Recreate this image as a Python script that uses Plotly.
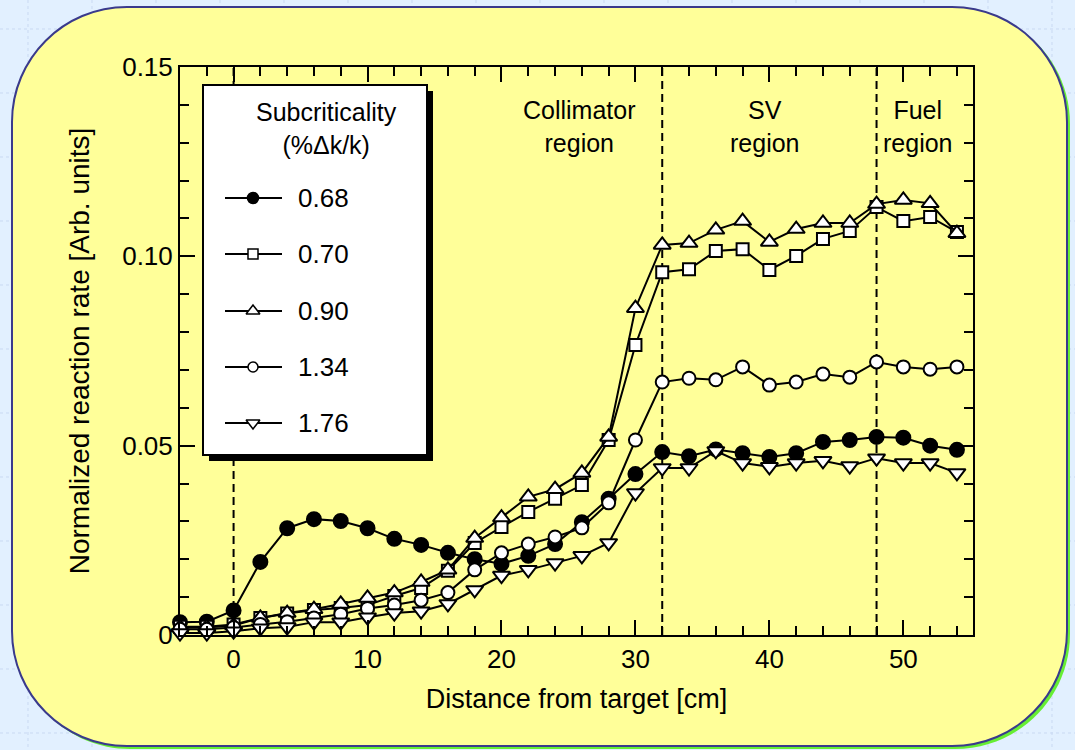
import plotly.graph_objects as go

# ---------------- data ----------------
distance_cm = [-4, -2, 0, 2, 4, 6, 8, 10, 12, 14, 16, 18, 20, 22, 24, 26, 28, 30,
               32, 34, 36, 38, 40, 42, 44, 46, 48, 50, 52, 54]

rate_068 = [0.0034, 0.0035, 0.0065, 0.0193, 0.0282, 0.0306, 0.0301, 0.0282, 0.0254, 0.0238,
            0.0217, 0.0200, 0.0188, 0.0209, 0.0240, 0.0298, 0.0360, 0.0425, 0.0483, 0.0472,
            0.0490, 0.0480, 0.0470, 0.0480, 0.0510, 0.0515, 0.0523, 0.0521, 0.0500, 0.0489]
rate_070 = [0.0022, 0.0022, 0.0028, 0.0045, 0.0057, 0.0066, 0.0071, 0.0079, 0.0103, 0.0124,
            0.0170, 0.0243, 0.0285, 0.0325, 0.0360, 0.0396, 0.0515, 0.0766, 0.0958, 0.0966,
            0.1014, 0.1019, 0.0964, 0.1001, 0.1046, 0.1067, 0.1130, 0.1093, 0.1104, 0.1064]
rate_090 = [0.0020, 0.0020, 0.0025, 0.0045, 0.0058, 0.0068, 0.0082, 0.0098, 0.0112, 0.0140,
            0.0172, 0.0256, 0.0310, 0.0365, 0.0385, 0.0428, 0.0523, 0.0863, 0.1030, 0.1035,
            0.1070, 0.1093, 0.1038, 0.1072, 0.1088, 0.1088, 0.1138, 0.1149, 0.1140, 0.1061]
rate_134 = [0.0015, 0.0015, 0.0020, 0.0028, 0.0035, 0.0045, 0.0055, 0.0070, 0.0079, 0.0092,
            0.0112, 0.0172, 0.0217, 0.0240, 0.0259, 0.0283, 0.0349, 0.0515, 0.0668, 0.0678,
            0.0674, 0.0708, 0.0660, 0.0668, 0.0689, 0.0681, 0.0721, 0.0708, 0.0702, 0.0708]
rate_176 = [0.0005, 0.0005, 0.0010, 0.0018, 0.0021, 0.0034, 0.0034, 0.0047, 0.0058, 0.0063,
            0.0082, 0.0119, 0.0157, 0.0172, 0.0190, 0.0209, 0.0243, 0.0375, 0.0441, 0.0441,
            0.0486, 0.0454, 0.0444, 0.0454, 0.0460, 0.0446, 0.0467, 0.0454, 0.0454, 0.0428]

series_labels = ["0.68", "0.70", "0.90", "1.34", "1.76"]
series_values = [rate_068, rate_070, rate_090, rate_134, rate_176]

region_bounds = [0, 32, 48]
region_labels = ["Collimator<br>region", "SV<br>region", "Fuel<br>region"]
region_label_x = [25.8, 39.7, 51.1]

x_tickvals = [0, 10, 20, 30, 40, 50]
x_ticktext = ["0", "10", "20", "30", "40", "50"]
y_tickvals = [0, 0.05, 0.10, 0.15]
y_ticktext = ["0", "0.05", "0.10", "0.15"]

# ---------------- styles ----------------
FONT = "Liberation Sans, Arial, sans-serif"
W, H = 1075, 750
L, R, T, B = 180, 973, 67, 635          # plot area in pixels
YELLOW = "#ffff99"
BG = "#e2f0ff"

symbols = ["circle", "square", "triangle-up", "circle", "triangle-down"]
fills = ["black", "white", "white", "white", "white"]
sizes = [14, 12, 15, 13, 15]
leg_sizes = [11, 10, 12, 10, 12]


def px(x):
    return (x - L) / (R - L)


def py(y):
    return (B - y) / (B - T)


def rrect_path(x0, y0, x1, y1, r):
    k = 0.5523 * r
    pts = [
        ("M", [(x0 + r, y0)]),
        ("L", [(x1 - r, y0)]),
        ("C", [(x1 - r + k, y0), (x1, y0 + r - k), (x1, y0 + r)]),
        ("L", [(x1, y1 - r)]),
        ("C", [(x1, y1 - r + k), (x1 - r + k, y1), (x1 - r, y1)]),
        ("L", [(x0 + r, y1)]),
        ("C", [(x0 + r - k, y1), (x0, y1 - r + k), (x0, y1 - r)]),
        ("L", [(x0, y0 + r)]),
        ("C", [(x0, y0 + r - k), (x0 + r - k, y0), (x0 + r, y0)]),
    ]
    s = ""
    for cmd, pl in pts:
        s += cmd + " " + " ".join(f"{px(a):.5f},{py(b):.5f}" for a, b in pl) + " "
    return s + "Z"


fig = go.Figure()

for lab, vals, sym, fc, sz in zip(series_labels, series_values, symbols, fills, sizes):
    fig.add_trace(go.Scatter(
        x=distance_cm, y=vals, mode="lines+markers", name=lab,
        line=dict(color="black", width=2),
        marker=dict(symbol=sym, size=sz, color=fc, line=dict(color="black", width=2)),
        cliponaxis=False, showlegend=False,
    ))

# ---- manual legend (overlay axis in pixel units) ----
leg_rows_y = [198, 254, 311, 367, 423]
leg_line_x = [225, 282]
leg_mark_x = 253
for lab, sym, fc, ls, ry in zip(series_labels, symbols, fills, leg_sizes, leg_rows_y):
    fig.add_trace(go.Scatter(
        x=leg_line_x, y=[ry, ry], mode="lines", xaxis="x2", yaxis="y2",
        line=dict(color="black", width=2), showlegend=False, hoverinfo="skip",
        cliponaxis=False,
    ))
    fig.add_trace(go.Scatter(
        x=[leg_mark_x], y=[ry], mode="markers", xaxis="x2", yaxis="y2",
        marker=dict(symbol=sym, size=ls, color=fc, line=dict(color="black", width=1.5)),
        showlegend=False, hoverinfo="skip", cliponaxis=False,
    ))

shapes = []
# background dotted grid
for gx in range(28, W, 64):
    shapes.append(dict(type="line", xref="paper", yref="paper", x0=px(gx), x1=px(gx),
                       y0=py(0), y1=py(H), line=dict(color="#c9d9f2", width=1, dash="dot"),
                       layer="below"))
for gy in range(29, H, 64):
    shapes.append(dict(type="line", xref="paper", yref="paper", x0=px(0), x1=px(W),
                       y0=py(gy), y1=py(gy), line=dict(color="#c9d9f2", width=1, dash="dot"),
                       layer="below"))
# green shadow + yellow rounded panel
shapes.append(dict(type="path", xref="paper", yref="paper", path=rrect_path(15, 9, 1070, 749, 115),
                   fillcolor="#66ee33", line=dict(width=0), layer="below"))
shapes.append(dict(type="path", xref="paper", yref="paper", path=rrect_path(12, 7, 1067, 746, 115),
                   fillcolor=YELLOW, line=dict(color="#3a3a8c", width=2), layer="below"))
# region boundaries
for xb in region_bounds:
    shapes.append(dict(type="line", xref="x", yref="paper", x0=xb, x1=xb, y0=0, y1=1,
                       line=dict(color="black", width=2, dash="8px,5px"), layer="below"))
# legend box with shadow
shapes.append(dict(type="rect", xref="paper", yref="paper", x0=px(209), x1=px(433),
                   y0=py(461), y1=py(91), fillcolor="black", line=dict(width=0), layer="below"))
shapes.append(dict(type="rect", xref="paper", yref="paper", x0=px(203), x1=px(427),
                   y0=py(455), y1=py(85), fillcolor="white", line=dict(color="black", width=2),
                   layer="below"))

annotations = []
annotations.append(dict(xref="paper", yref="paper", x=px(326), y=py(129), showarrow=False,
                        text="Subcriticality<br>(%Δk/k)", font=dict(family=FONT, size=25, color="black"),
                        xanchor="center", yanchor="middle"))
for lab, ry in zip(series_labels, leg_rows_y):
    annotations.append(dict(xref="paper", yref="paper", x=px(296), y=py(ry), showarrow=False,
                            text=lab, font=dict(family=FONT, size=26, color="black"),
                            xanchor="left", yanchor="middle"))
for txt, xl in zip(region_labels, region_label_x):
    annotations.append(dict(xref="x", yref="paper", x=xl, y=py(127), showarrow=False,
                            text=txt, font=dict(family=FONT, size=25, color="black"),
                            xanchor="center", yanchor="middle"))

axis_common = dict(
    showline=True, linecolor="black", linewidth=2, mirror="allticks",
    ticks="inside", ticklen=15, tickwidth=2, tickcolor="black",
    showgrid=False, zeroline=False,
    tickfont=dict(family=FONT, size=26, color="black"),
)

fig.update_layout(
    width=W, height=H,
    margin=dict(l=L, r=W - R, t=T, b=H - B),
    paper_bgcolor=BG, plot_bgcolor="rgba(0,0,0,0)",
    font=dict(family=FONT, color="black"),
    xaxis=dict(range=[-4.0, 55.2], tickvals=x_tickvals, ticktext=x_ticktext,
               minor=dict(dtick=2, tick0=0, ticks="inside", ticklen=9, tickwidth=2, tickcolor="black"),
               title=dict(text="Distance from target [cm]", font=dict(family=FONT, size=27), standoff=16),
               **axis_common),
    yaxis=dict(range=[0, 0.15], tickvals=y_tickvals, ticktext=y_ticktext,
               minor=dict(dtick=0.01, tick0=0, ticks="inside", ticklen=9, tickwidth=2, tickcolor="black"),
               title=dict(text="Normalized reaction rate [Arb. units]", font=dict(family=FONT, size=28), standoff=24),
               **axis_common),
    xaxis2=dict(range=[L, R], overlaying="x", visible=False, domain=[0, 1]),
    yaxis2=dict(range=[B, T], overlaying="y", visible=False, domain=[0, 1]),
    shapes=shapes, annotations=annotations, showlegend=False,
)

fig.write_html("out.html")
